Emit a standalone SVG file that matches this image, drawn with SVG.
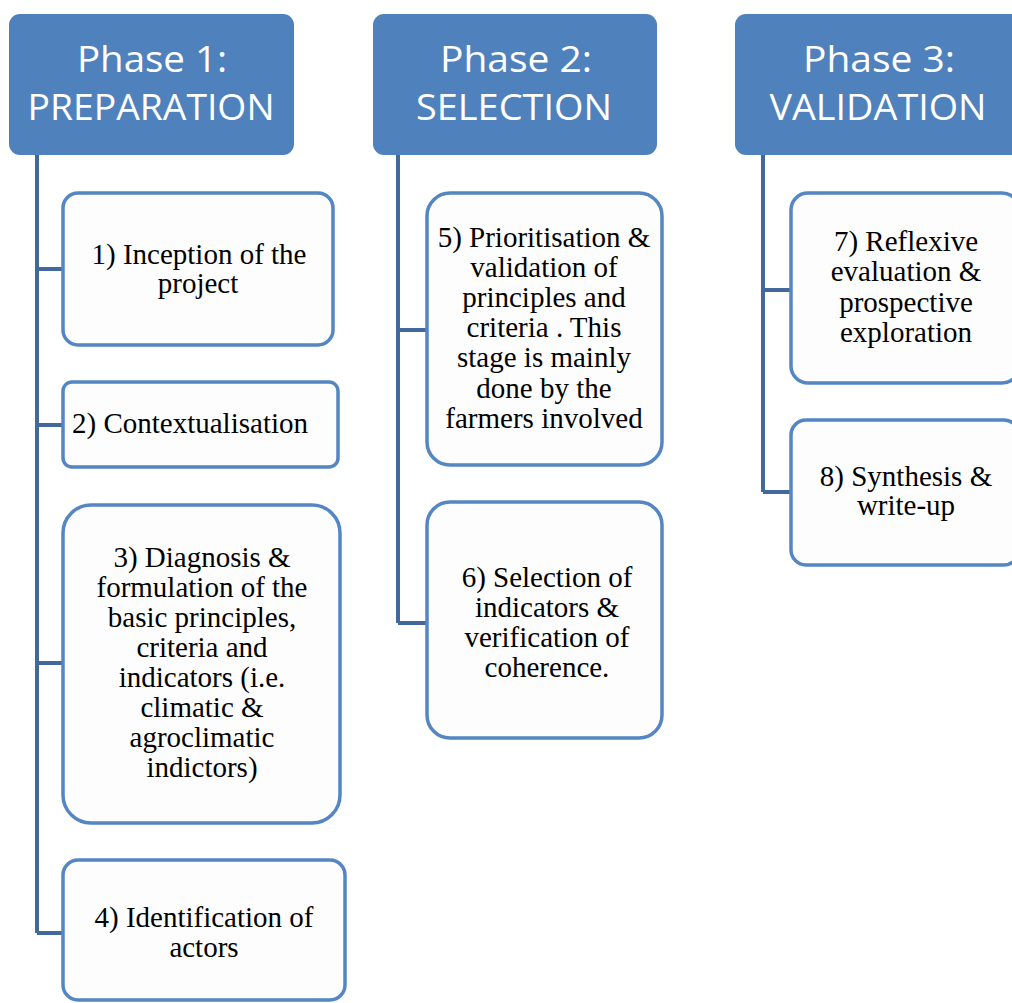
<svg xmlns="http://www.w3.org/2000/svg" width="1012" height="1003" viewBox="0 0 1012 1003">
<style>
.hdr{fill:#4F81BD}
.htxt{font-family:"Open Sans","Liberation Sans",sans-serif;font-size:37px;fill:#FFFFFF;text-anchor:middle}
.box{fill:#FDFDFD;stroke:#5386C2;stroke-width:3.5}
.btxt{font-family:"Liberation Serif","Times New Roman",serif;font-size:29px;fill:#000000;text-anchor:middle}
.conn{fill:none;stroke:#41699C;stroke-width:4;stroke-linejoin:miter}
</style>
<rect width="1012" height="1003" fill="#FFFFFF"/>
<g id="connectors">
<path class="conn" d="M37 155 V933 M37 269 H63 M37 425 H63 M37 663 H63 M37 933 H63"/>
<path class="conn" d="M398 155 V623 M398 330 H427 M398 623 H427"/>
<path class="conn" d="M763 155 V492 M763 290 H791 M763 492 H791"/>
</g>
<g id="phase1">
<rect class="hdr" x="9" y="14" width="285" height="141" rx="11"/>
<text class="htxt" x="152" y="72" textLength="150" lengthAdjust="spacingAndGlyphs">Phase 1:</text>
<text class="htxt" x="151" y="120" textLength="247" lengthAdjust="spacingAndGlyphs">PREPARATION</text>
</g>
<g id="phase2">
<rect class="hdr" x="373" y="14" width="284" height="141" rx="11"/>
<text class="htxt" x="516" y="72" textLength="152" lengthAdjust="spacingAndGlyphs">Phase 2:</text>
<text class="htxt" x="514" y="120" textLength="196" lengthAdjust="spacingAndGlyphs">SELECTION</text>
</g>
<g id="phase3">
<rect class="hdr" x="735" y="14" width="290" height="141" rx="11"/>
<text class="htxt" x="879" y="72" textLength="152" lengthAdjust="spacingAndGlyphs">Phase 3:</text>
<text class="htxt" x="878" y="120" textLength="217" lengthAdjust="spacingAndGlyphs">VALIDATION</text>
</g>
<g id="step1">
<rect class="box" x="63" y="193" width="270" height="152" rx="15"/>
<text class="btxt" x="199" y="264">1) Inception of the</text>
<text class="btxt" x="198" y="293">project</text>
</g>
<g id="step2">
<rect class="box" x="63" y="382" width="275" height="85" rx="9"/>
<text class="btxt" x="190" y="433">2) Contextualisation</text>
</g>
<g id="step3">
<rect class="box" x="63" y="505" width="277" height="318" rx="28"/>
<text class="btxt" x="202" y="567">3) Diagnosis &amp;</text>
<text class="btxt" x="202" y="597">formulation of the</text>
<text class="btxt" x="202" y="627">basic principles,</text>
<text class="btxt" x="202" y="657">criteria and</text>
<text class="btxt" x="202" y="687">indicators (i.e.</text>
<text class="btxt" x="202" y="717">climatic  &amp;</text>
<text class="btxt" x="202" y="747">agroclimatic</text>
<text class="btxt" x="202" y="777">indictors)</text>
</g>
<g id="step4">
<rect class="box" x="63" y="860" width="282" height="140" rx="15"/>
<text class="btxt" x="204" y="927">4) Identification of</text>
<text class="btxt" x="204" y="957">actors</text>
</g>
<g id="step5">
<rect class="box" x="427" y="193" width="235" height="272" rx="23"/>
<text class="btxt" x="544" y="247">5) Prioritisation &amp;</text>
<text class="btxt" x="544" y="277">validation of</text>
<text class="btxt" x="544" y="307">principles and</text>
<text class="btxt" x="544" y="337">criteria . This</text>
<text class="btxt" x="544" y="367">stage is mainly</text>
<text class="btxt" x="544" y="398">done by the</text>
<text class="btxt" x="544" y="428">farmers involved</text>
</g>
<g id="step6">
<rect class="box" x="427" y="502" width="235" height="236" rx="23"/>
<text class="btxt" x="547" y="587">6) Selection of</text>
<text class="btxt" x="547" y="617">indicators &amp;</text>
<text class="btxt" x="547" y="647">verification of</text>
<text class="btxt" x="547" y="677">coherence.</text>
</g>
<g id="step7">
<rect class="box" x="791" y="193" width="228" height="190" rx="17"/>
<text class="btxt" x="906" y="251">7) Reflexive</text>
<text class="btxt" x="906" y="281">evaluation &amp;</text>
<text class="btxt" x="906" y="312">prospective</text>
<text class="btxt" x="906" y="342">exploration</text>
</g>
<g id="step8">
<rect class="box" x="791" y="420" width="228" height="145" rx="15"/>
<text class="btxt" x="906" y="486">8) Synthesis &amp;</text>
<text class="btxt" x="906" y="515">write-up</text>
</g>
</svg>
